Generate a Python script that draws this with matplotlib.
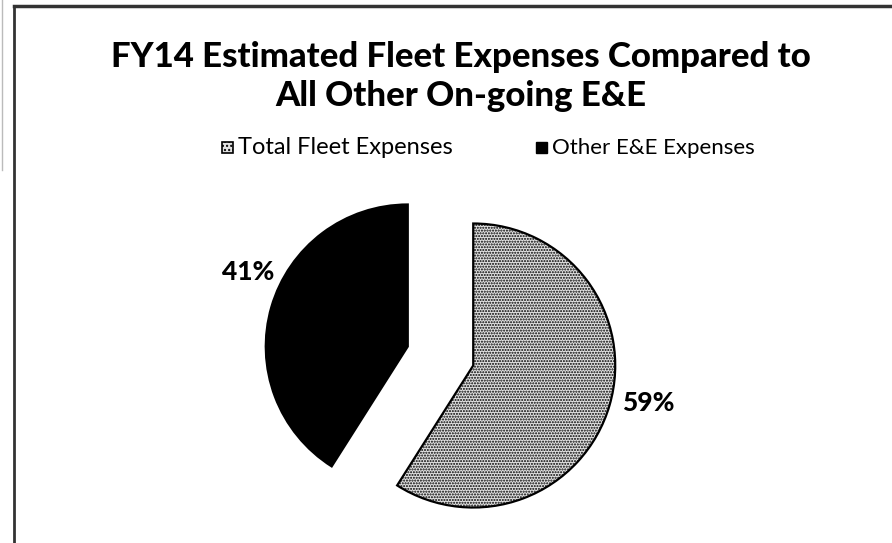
import matplotlib.pyplot as plt
from matplotlib.patches import Rectangle
from matplotlib.lines import Line2D

labels = ["Total Fleet Expenses", "Other E&E Expenses"]
shares = [59, 41]
slice_colors = ["#e2e2e2", "#000000"]
explode = [0.24, 0.24]

title = "FY14 Estimated Fleet Expenses Compared to\nAll Other On-going E&E"

plt.rcParams["font.family"] = ["Lato", "DejaVu Sans"]
plt.rcParams["hatch.color"] = "#b4b4b4"

W, H = 892, 543
fig = plt.figure(figsize=(W / 100, H / 100), dpi=100)

# pie radius 142 px, original centre around (440, 356)
r_px = 142
cx, cy = 440.5, 356
ax = fig.add_axes([(cx - 1.5 * r_px) / W, 1 - (cy + 1.5 * r_px) / H,
                   3 * r_px / W, 3 * r_px / H])
wedges, _ = ax.pie(shares, colors=slice_colors, explode=explode,
                   startangle=90, counterclock=False, radius=1.0,
                   wedgeprops={"edgecolor": "black", "linewidth": 1.6},
                   frame=False)
wedges[0].set_hatch("......")
ax.set_aspect("equal")
ax.set_xlim(-1.5, 1.5)
ax.set_ylim(-1.5, 1.5)
ax.axis("off")

# percentage labels
fig.text(648 / W, 1 - 403 / H, f"{shares[0]}%", ha="center", va="center",
         fontsize=19, fontweight=900)
fig.text(248 / W, 1 - 272 / H, f"{shares[1]}%", ha="center", va="center",
         fontsize=19, fontweight=900)

fig.text(461 / W, 1 - 57 / H, title.split("\n")[0], ha="center", va="center",
         fontsize=25, fontweight=900)
fig.text(461 / W, 1 - 96 / H, title.split("\n")[1], ha="center", va="center",
         fontsize=25, fontweight=900)

# legend
fig.patches.append(Rectangle((222 / W, 1 - 153 / H), 11 / W, 11 / H,
                             transform=fig.transFigure, facecolor="#e2e2e2",
                             edgecolor="black", linewidth=1.2, hatch="...."))
fig.text(238 / W, 1 - 148 / H, labels[0], ha="left", va="center", fontsize=17)
fig.patches.append(Rectangle((536 / W, 1 - 153 / H), 11 / W, 11 / H,
                             transform=fig.transFigure, facecolor="black",
                             edgecolor="black"))
fig.text(552 / W, 1 - 148 / H, labels[1], ha="left", va="center", fontsize=16)

# chart frame (top and left edges visible in the scan)
fig.add_artist(Line2D([14 / W, 14 / W], [0, 1 - 6 / H], color="#333333",
                      linewidth=2, transform=fig.transFigure))
fig.add_artist(Line2D([14 / W, 1], [1 - 6 / H, 1 - 6 / H], color="#333333",
                      linewidth=2.5, transform=fig.transFigure))
fig.add_artist(Line2D([2 / W, 2 / W], [1 - 170 / H, 1], color="#bbbbbb",
                      linewidth=1, transform=fig.transFigure))

fig.savefig("out.png", dpi=100)
